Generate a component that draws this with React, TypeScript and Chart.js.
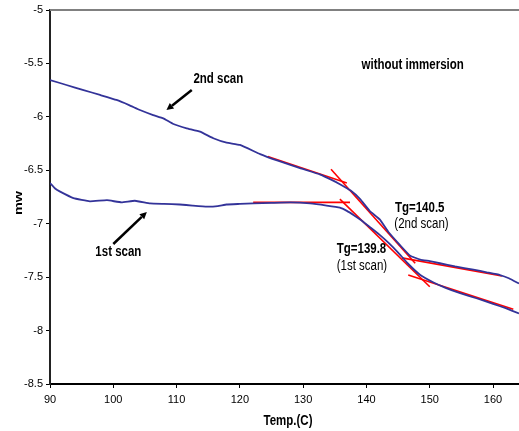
import React, { useEffect, useRef } from "react";
import { Chart, registerables } from "chart.js";

Chart.register(...registerables);

// 2nd scan (upper curve)
const scan2Temp = [90, 92.6, 95.3, 97.9, 100.5, 102.5, 104.2, 106.3, 107.9, 109.5, 111.6, 113.7, 115.8, 117.9, 120, 123.2, 126, 129.5, 132.7, 134.5, 135.8, 137.5, 139, 140.5, 142.1, 143.5, 145.3, 146.9, 148.5, 150, 151.6, 154, 156.9, 159, 161.1, 162.5, 164.1];
const scan2Value = [-5.655, -5.702, -5.749, -5.795, -5.842, -5.89, -5.936, -5.983, -6.014, -6.067, -6.107, -6.139, -6.2, -6.242, -6.263, -6.348, -6.41, -6.48, -6.54, -6.59, -6.63, -6.69, -6.77, -6.88, -6.96, -7.08, -7.2, -7.3, -7.335, -7.35, -7.37, -7.4, -7.43, -7.455, -7.48, -7.51, -7.56];

// 1st scan (lower curve)
const scan1Temp = [90, 90.8, 91.6, 93.7, 96.3, 99, 101.3, 103.4, 105.8, 108, 110.5, 112.5, 114.8, 116.5, 117.9, 120, 122.1, 125, 128, 131.1, 133.7, 135.8, 136.9, 138, 139, 140.5, 142, 143.5, 145, 146.5, 148.5, 150.6, 152.5, 154.8, 157.5, 160, 162, 164.1];
const scan1Value = [-6.62, -6.67, -6.7, -6.76, -6.79, -6.78, -6.8, -6.785, -6.81, -6.815, -6.82, -6.83, -6.84, -6.835, -6.82, -6.815, -6.81, -6.805, -6.8, -6.81, -6.83, -6.85, -6.88, -6.92, -6.96, -7.03, -7.1, -7.18, -7.27, -7.37, -7.48, -7.55, -7.6, -7.65, -7.7, -7.75, -7.79, -7.84];

// tangent construction lines (start/end temperatures and values)
const tangentTempStart = [124.4, 134.4, 145.6, 122.1, 135.8, 146.6];
const tangentTempEnd = [136.9, 147.7, 161.4, 137.4, 150.0, 163.2];
const tangentValueStart = [-6.37, -6.49, -7.32, -6.8, -6.77, -7.48];
const tangentValueEnd = [-6.62, -7.37, -7.49, -6.8, -7.59, -7.8];

// axis ticks
const xTicks = [90, 100, 110, 120, 130, 140, 150, 160];
const yTicks = [-5, -5.5, -6, -6.5, -7, -7.5, -8, -8.5];

// annotations (data coordinates)
const labelTexts = ["2nd scan", "1st scan", "without immersion", "Tg=140.5", "(2nd scan)", "Tg=139.8", "(1st scan)"];
const labelTemps = [116.6, 100.8, 147.3, 144.5, 144.4, 135.3, 135.3];
const labelValues = [-5.646, -7.27, -5.515, -6.855, -7.0, -7.237, -7.4];
const labelBold = [true, true, true, true, false, true, false];
const labelAlign = ["center", "center", "center", "left", "left", "left", "left"];

const arrowTempFrom = [112.4, 100.0];
const arrowValueFrom = [-5.749, -7.19];
const arrowTempTo = [108.4, 105.3];
const arrowValueTo = [-5.936, -6.89];

const FONT = "'Liberation Sans', Arial, sans-serif";

const annotationPlugin = {
  id: "annotations",
  afterDatasetsDraw(chart: any) {
    const { ctx, chartArea, scales } = chart;
    const xs = scales.x;
    const ys = scales.y;
    ctx.save();
    // gray top border of plot area
    ctx.strokeStyle = "#808080";
    ctx.lineWidth = 2;
    ctx.beginPath();
    ctx.moveTo(chartArea.left, chartArea.top);
    ctx.lineTo(chartArea.right, chartArea.top);
    ctx.stroke();

    // arrows
    ctx.strokeStyle = "#000";
    ctx.fillStyle = "#000";
    ctx.lineWidth = 2.5;
    for (let i = 0; i < arrowTempFrom.length; i++) {
      const x1 = xs.getPixelForValue(arrowTempFrom[i]);
      const y1 = ys.getPixelForValue(arrowValueFrom[i]);
      const x2 = xs.getPixelForValue(arrowTempTo[i]);
      const y2 = ys.getPixelForValue(arrowValueTo[i]);
      const ang = Math.atan2(y2 - y1, x2 - x1);
      const head = 7;
      const bx = x2 - head * Math.cos(ang);
      const by = y2 - head * Math.sin(ang);
      ctx.beginPath();
      ctx.moveTo(x1, y1);
      ctx.lineTo(bx, by);
      ctx.stroke();
      ctx.beginPath();
      ctx.moveTo(x2, y2);
      ctx.lineTo(bx + 3.5 * Math.sin(ang), by - 3.5 * Math.cos(ang));
      ctx.lineTo(bx - 3.5 * Math.sin(ang), by + 3.5 * Math.cos(ang));
      ctx.closePath();
      ctx.fill();
    }

    // texts
    ctx.fillStyle = "#000";
    ctx.textBaseline = "middle";
    for (let i = 0; i < labelTexts.length; i++) {
      const x = xs.getPixelForValue(labelTemps[i]);
      const y = ys.getPixelForValue(labelValues[i]);
      ctx.save();
      ctx.translate(x, y);
      ctx.scale(1, 1.2);
      ctx.font = (labelBold[i] ? "bold " : "") + "11.5px " + FONT;
      ctx.textAlign = labelAlign[i] as CanvasTextAlign;
      ctx.fillText(labelTexts[i], 0, 0);
      ctx.restore();
    }

    // axis titles
    ctx.save();
    ctx.translate(288, 421.5);
    ctx.scale(1, 1.2);
    ctx.font = "bold 11.5px " + FONT;
    ctx.textAlign = "center";
    ctx.fillText("Temp.(C)", 0, 0);
    ctx.restore();

    ctx.save();
    ctx.translate(19, 203);
    ctx.rotate(-Math.PI / 2);
    ctx.scale(1.25, 1);
    ctx.font = "bold 11.5px " + FONT;
    ctx.textAlign = "center";
    ctx.fillText("mw", 0, 0);
    ctx.restore();

    ctx.restore();
  },
};

export default function App() {
  const ref = useRef<HTMLCanvasElement>(null);
  useEffect(() => {
    if (!ref.current) return;
    const scan2 = scan2Temp.map((t, i) => ({ x: t, y: scan2Value[i] }));
    const scan1 = scan1Temp.map((t, i) => ({ x: t, y: scan1Value[i] }));
    const tangents = tangentTempStart.map((t, i) => ({
      label: "tangent " + (i + 1),
      data: [
        { x: t, y: tangentValueStart[i] },
        { x: tangentTempEnd[i], y: tangentValueEnd[i] },
      ],
      borderColor: "#ff0000",
      borderWidth: 1.6,
      pointRadius: 0,
      tension: 0,
    }));
    const chart = new Chart(ref.current, {
      type: "line",
      data: {
        datasets: [
          { label: "2nd scan", data: scan2, borderColor: "#333399", borderWidth: 1.8, pointRadius: 0, tension: 0.1 },
          { label: "1st scan", data: scan1, borderColor: "#333399", borderWidth: 1.8, pointRadius: 0, tension: 0.1 },
          ...tangents,
        ],
      },
      options: {
        responsive: false,
        animation: false,
        events: [],
        layout: { padding: { top: 10, left: 0, right: 0, bottom: 0 } },
        plugins: { legend: { display: false }, tooltip: { enabled: false } },
        scales: {
          x: {
            type: "linear",
            min: 90,
            max: 164.1,
            afterFit: (s: any) => { s.height = 47; },
            afterBuildTicks: (s: any) => { s.ticks = xTicks.map((v) => ({ value: v })); },
            border: { display: true, color: "#000", width: 2 },
            grid: { display: true, drawOnChartArea: false, drawTicks: true, tickLength: 4, color: "#000", tickWidth: 1 },
            ticks: { color: "#000", font: { family: FONT, size: 11 }, padding: 5, maxRotation: 0, callback: (v: any) => String(v) },
          },
          y: {
            type: "linear",
            min: -8.5,
            max: -5,
            afterFit: (s: any) => { s.width = 50; },
            afterBuildTicks: (s: any) => { s.ticks = yTicks.map((v) => ({ value: v })); },
            border: { display: true, color: "#222", width: 2 },
            grid: { display: true, drawOnChartArea: false, drawTicks: true, tickLength: 4, color: "#000", tickWidth: 1 },
            ticks: { color: "#000", font: { family: FONT, size: 11 }, padding: 3, callback: (v: any) => String(v) },
          },
        },
      },
      plugins: [annotationPlugin],
    });
    return () => chart.destroy();
  }, []);
  return (
    <div style={{ position: "fixed", left: 0, top: 0, width: 519, height: 431, background: "#fff" }}>
      <canvas ref={ref} width={519} height={431} style={{ display: "block" }} />
    </div>
  );
}
